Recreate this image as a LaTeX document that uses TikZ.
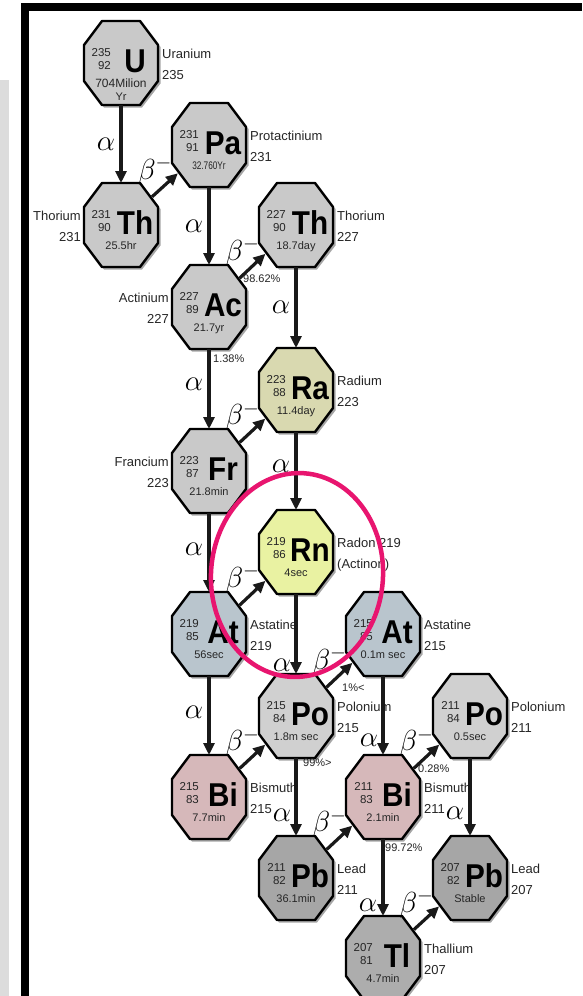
\RequirePackage{fix-cm}
\documentclass[tikz,border=0pt]{standalone}
\usepackage{fontspec}
\usetikzlibrary{arrows.meta,calc}
\setmainfont{Liberation Sans}
\newfontfamily\symfont{Liberation Sans}[FakeStretch=0.9]
\newfontfamily\narrowfont{Liberation Sans}[FakeStretch=0.75]

\definecolor{isogray}{HTML}{C9C9C9}
\definecolor{pogray}{HTML}{D0D0D0}
\definecolor{rakhaki}{HTML}{D9D9B0}
\definecolor{rnyellow}{HTML}{E9F2A2}
\definecolor{atblue}{HTML}{B9C5CD}
\definecolor{bipink}{HTML}{D6B8BA}
\definecolor{pbgray}{HTML}{A6A6A6}
\definecolor{tlgray}{HTML}{ADADAD}
\definecolor{ringpink}{HTML}{E8156F}
\definecolor{stripgray}{HTML}{DCDCDC}

\tikzset{
  octo/.style={draw=black, line width=2.4pt, line join=round},
  octoshadow/.style={fill=black, opacity=0.35},
  isobox/.style={rectangle, minimum width=74pt, minimum height=84pt, inner sep=0pt, outer sep=0pt},
  massnum/.style={anchor=base east, inner sep=0pt, text=black!85, font=\fontsize{11.5}{11.5}\selectfont},
  symb/.style={anchor=base, inner sep=0pt, font=\symfont\bfseries\fontsize{33}{33}\selectfont},
  halflife/.style={anchor=base, inner sep=0pt, text=black!85, font=\fontsize{11}{11}\selectfont},
  namelab/.style={anchor=base west, inner sep=0pt, text=black!85, font=\fontsize{13}{13}\selectfont},
  namelabl/.style={anchor=base east, inner sep=0pt, text=black!85, font=\fontsize{13}{13}\selectfont},
  pct/.style={anchor=west, inner sep=0pt, text=black!85, font=\fontsize{11}{11}\selectfont},
  decay/.style={line width=3.2pt, draw=black!90, -{Triangle[length=12pt,width=11pt]},
    shorten <=42pt, shorten >=42pt},
  alab/.style={inner sep=0pt, font=\fontsize{29}{29}\selectfont},
  blab/.style={inner sep=0pt, font=\fontsize{29}{29}\selectfont, shift={(-10,-14)}},
}

% \isotope{name}{x}{y}{fill}{mass}{Z}{symbol}{half-life}
\newcommand{\isotope}[8]{%
  \path[octoshadow] (#2-35,#3-16) -- (#2-17,#3-40) -- (#2+21,#3-40) -- (#2+39.5,#3-16)
    -- (#2+39.5,#3+20.5) -- (#2+21,#3+44.5) -- (#2-17,#3+44.5) -- (#2-35,#3+20.5) -- cycle;
  \path[octo, fill=#4] (#2-37,#3-18) -- (#2-19,#3-42) -- (#2+19,#3-42) -- (#2+37,#3-18)
    -- (#2+37,#3+18) -- (#2+19,#3+42) -- (#2-19,#3+42) -- (#2-37,#3+18) -- cycle;
  \node[isobox] (#1) at (#2,#3) {};
  \node[massnum] (#1-a) at (#2-10,#3-7) {#5};
  \node[massnum] (#1-z) at (#2-10,#3+6) {#6};
  \node[symb] (#1-s) at (#2+14,#3+9) {#7};
  \node[halflife] (#1-t) at (#2,#3+24) {#8};
}
% name labels to the right / left of a nuclide
\newcommand{\rlab}[3]{%
  \node[namelab] (#1-n) at ([shift={(41,-5)}]#1.center) {#2};
  \node[namelab] (#1-m) at ([shift={(41,16)}]#1.center) {#3};
}
\newcommand{\llab}[3]{%
  \node[namelabl] (#1-n) at ([shift={(-40,-5)}]#1.center) {#2};
  \node[namelabl] (#1-m) at ([shift={(-40,16)}]#1.center) {#3};
}

\begin{document}
\begin{tikzpicture}[x=1pt, y=-1pt]
\useasboundingbox (0,0) rectangle (582,996);
\fill[white] (0,0) rectangle (582,996);

% page frame
\fill[stripgray] (0,80) rectangle (9,996);
\fill[black] (21,3) rectangle (582,11);
\fill[black] (21,3) rectangle (29,996);

% nuclides of the actinium series
\isotope{u}{121}{63}{isogray}{235}{92}{U}{\fontsize{12}{12}\selectfont 704Milion}
\node[halflife] (u-t2) at (121,100) {Yr};
\isotope{pa}{209}{145}{isogray}{231}{91}{Pa}{\narrowfont 32.760Yr}
\isotope{tha}{121}{225}{isogray}{231}{90}{Th}{25.5hr}
\isotope{thb}{296}{225}{isogray}{227}{90}{Th}{18.7day}
\isotope{ac}{209}{307}{isogray}{227}{89}{Ac}{21.7yr}
\isotope{ra}{296}{390}{rakhaki}{223}{88}{Ra}{11.4day}
\isotope{fr}{209}{471}{isogray}{223}{87}{Fr}{21.8min}
\isotope{rn}{296}{552}{rnyellow}{219}{86}{Rn}{4sec}
\isotope{ata}{209}{634}{atblue}{219}{85}{At}{56sec}
\isotope{atb}{383}{634}{atblue}{215}{85}{At}{0.1m sec}
\isotope{poa}{296}{716}{pogray}{215}{84}{Po}{1.8m sec}
\isotope{bia}{209}{797}{bipink}{215}{83}{Bi}{7.7min}
\isotope{pob}{470}{716}{pogray}{211}{84}{Po}{0.5sec}
\isotope{bib}{383}{797}{bipink}{211}{83}{Bi}{2.1min}
\isotope{pba}{296}{878}{pbgray}{211}{82}{Pb}{36.1min}
\isotope{pbb}{470}{878}{pbgray}{207}{82}{Pb}{Stable}
\isotope{tl}{383}{958}{tlgray}{207}{81}{Tl}{4.7min}

% names and mass numbers
\rlab{u}{Uranium}{235}
\rlab{pa}{Protactinium}{231}
\llab{tha}{Thorium}{231}
\rlab{thb}{Thorium}{227}
\llab{ac}{Actinium}{227}
\rlab{ra}{Radium}{223}
\llab{fr}{Francium}{223}
\rlab{rn}{Radon 219}{(Actinon)}
\rlab{ata}{Astatine}{219}
\rlab{atb}{Astatine}{215}
\rlab{poa}{Polonium}{215}
\rlab{bia}{Bismuth}{215}
\rlab{pob}{Polonium}{211}
\rlab{bib}{Bismuth}{211}
\rlab{pba}{Lead}{211}
\rlab{pbb}{Lead}{207}
\rlab{tl}{Thallium}{207}

% alpha decays
\draw[decay] (u.center) -- (tha.center) node[alab, pos=0.5, xshift=-15pt] (l1) {$\alpha$};
\draw[decay] (pa.center) -- (ac.center) node[alab, pos=0.5, xshift=-15pt] (l2) {$\alpha$};
\draw[decay] (thb.center) -- (ra.center) node[alab, pos=0.5, xshift=-15pt] (l3) {$\alpha$};
\draw[decay] (ac.center) -- (fr.center) node[alab, pos=0.47, xshift=-15pt] (l4) {$\alpha$};
\draw[decay] (ra.center) -- (rn.center) node[alab, pos=0.47, xshift=-15pt] (l5) {$\alpha$};
\draw[decay] (fr.center) -- (ata.center) node[alab, pos=0.48, xshift=-15pt] (l6) {$\alpha$};
\draw[decay] (rn.center) -- (poa.center) node[alab, pos=0.69, xshift=-14pt] (l7) {$\alpha$};
\draw[decay] (ata.center) -- (bia.center) node[alab, pos=0.48, xshift=-15pt] (l8) {$\alpha$};
\draw[decay] (atb.center) -- (bib.center) node[alab, pos=0.65, xshift=-14pt] (l9) {$\alpha$};
\draw[decay] (poa.center) -- (pba.center) node[alab, pos=0.61, xshift=-14pt] (l10) {$\alpha$};
\draw[decay] (pob.center) -- (pbb.center) node[alab, pos=0.6, xshift=-15pt] (l11) {$\alpha$};
\draw[decay] (bib.center) -- (tl.center) node[alab, pos=0.67, xshift=-15pt] (l12) {$\alpha$};

% beta-minus decays
\draw[decay] (tha.center) -- (pa.center) node[blab, midway] (b1) {$\beta^-$};
\draw[decay] (ac.center) -- (thb.center) node[blab, midway] (b2) {$\beta^-$};
\draw[decay] (fr.center) -- (ra.center) node[blab, midway] (b3) {$\beta^-$};
\draw[decay] (ata.center) -- (rn.center) node[blab, midway] (b4) {$\beta^-$};
\draw[decay] (poa.center) -- (atb.center) node[blab, midway] (b5) {$\beta^-$};
\draw[decay] (bia.center) -- (poa.center) node[blab, midway] (b6) {$\beta^-$};
\draw[decay] (bib.center) -- (pob.center) node[blab, midway] (b7) {$\beta^-$};
\draw[decay] (pba.center) -- (bib.center) node[blab, midway] (b8) {$\beta^-$};
\draw[decay] (tl.center) -- (pbb.center) node[blab, midway] (b9) {$\beta^-$};

% branching ratios
\node[pct] (r1) at (243,279) {98.62\%};
\node[pct] (r2) at (213,359) {1.38\%};
\node[pct] (r3) at (342,688) {1\%<};
\node[pct] (r4) at (303,763) {99\%>};
\node[pct] (r5) at (418,769) {0.28\%};
\node[pct] (r6) at (385,848) {99.72\%};

% highlight ring around radon-219
\draw[ringpink, line width=4.5pt, rotate around={-4:(297,575)}]
  (297,575) ellipse [x radius=86, y radius=102];
\end{tikzpicture}
\end{document}
